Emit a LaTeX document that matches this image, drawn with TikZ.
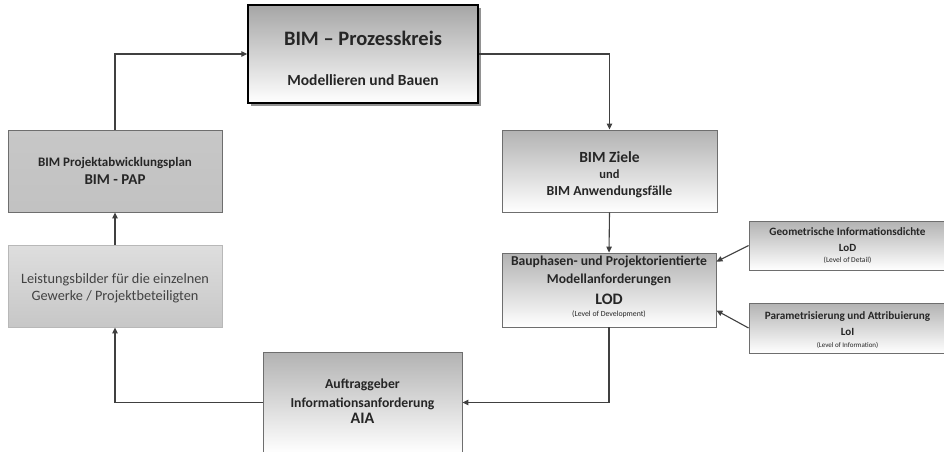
\documentclass[tikz,border=0pt]{standalone}
\usepackage{fontspec}
\setmainfont{Carlito}
\usetikzlibrary{arrows.meta,shadows}
\definecolor{txt}{HTML}{262626}
\definecolor{frame}{HTML}{6E6E6E}
% line size with a fixed 20pt baseline grid
\newcommand{\fs}[1]{\fontsize{#1}{20}\selectfont}
% invisible struts that set a line's height or depth
\newcommand{\hstrut}[1]{\rule{0pt}{#1}}
\newcommand{\dstrut}[1]{\rule[-#1]{0pt}{#1}}
\tikzset{
  box/.style={draw=frame, line width=0.9pt, top color=black!30, bottom color=white,
    align=center, text=txt, font=\bfseries\fontsize{10}{20}\selectfont, inner sep=2pt,
    drop shadow={shadow xshift=1.2pt, shadow yshift=-1.2pt, fill=black!30}},
  mainbox/.style={box, draw=black, line width=1.4pt, top color=black!35,
    drop shadow={shadow xshift=2.5pt, shadow yshift=-2.5pt, fill=black!85}},
  flow/.style={draw=black!75, line width=1.1pt, -{Triangle[length=6pt,width=5.5pt]}},
}
\begin{document}
\begin{tikzpicture}[x=1pt,y=-1pt]
\useasboundingbox (0,0) rectangle (944,451);

\node[mainbox, minimum width=230, minimum height=98] (kreis) at (363,54)
  {{\fs{20.5}\hstrut{23pt}BIM – Prozesskreis}\\[20pt]
   {\fs{15.5}Modellieren und Bauen}};

\node[box, minimum width=214, minimum height=82,
      top color=black!22, middle color=black!8, bottom color=black!24] (pap) at (115,171)
  {{\fs{13}BIM Projektabwicklungsplan}\\[-2pt]
   {\fs{15}BIM - PAP}};

\node[box, minimum width=214, minimum height=82, font=\mdseries\fontsize{10}{20}\selectfont,
      text=black!74, draw=black!28,
      top color=black!13, middle color=black!6, bottom color=black!22] (leist) at (115,286)
  {{\fs{14.3}\hstrut{15.3pt}Leistungsbilder für die einzelnen}\\[-3pt]
   {\fs{14.3}Gewerke / Projektbeteiligten}};

\node[box, minimum width=215, minimum height=82] (ziele) at (609.5,171)
  {{\fs{15.5}\hstrut{18pt}BIM Ziele}\\[-4pt]
   {\fs{12.5}und}\\[-3pt]
   {\fs{13.8}BIM Anwendungsfälle}};

\node[box, minimum width=214, minimum height=74] (lod) at (609,290)
  {{\fs{13.6}Bauphasen- und Projektorientierte}\\[-2pt]
   {\fs{13.6}Modellanforderungen}\\[1pt]
   {\fs{16}LOD}\\[-8pt]
   {\fs{7.8}\mdseries (Level of Development)\dstrut{8pt}}};

\node[box, minimum width=197, minimum height=49] (geo) at (847.5,245.5)
  {{\fs{11.2}Geometrische Informationsdichte}\\[-4pt]
   {\fs{11}LoD}\\[-9pt]
   {\fs{7.5}\mdseries (Level of Detail)}};

\node[box, minimum width=197, minimum height=50] (loi) at (847.5,328)
  {{\fs{11.2}\hstrut{11pt}Parametrisierung und Attribuierung}\\[-4pt]
   {\fs{11}LoI}\\[-8pt]
   {\fs{7}\mdseries (Level of Information)}};

\node[box, minimum width=199, minimum height=101] (aia) at (362.5,402.5)
  {{\fs{13.7}Auftraggeber}\\[-1pt]
   {\fs{13.7}Informationsanforderung}\\[-4pt]
   {\fs{16}AIA\dstrut{3pt}}};

% process loop
\draw[flow] (pap.north) |- (kreis.west);
\draw[flow] (kreis.east) -| (ziele.north);
\draw[flow] (ziele.south) -- (lod.north);
\draw[flow] (lod.south) |- (aia.east);
\draw[flow] (aia.west) -| (leist.south);
\draw[flow] (leist.north) -- (pap.south);

% detail inputs to LOD
\draw[flow] (geo.west) -- ([yshift=-9pt]lod.north east);
\draw[flow] (loi.west) -- ([yshift=17pt]lod.south east);
\end{tikzpicture}
\end{document}
